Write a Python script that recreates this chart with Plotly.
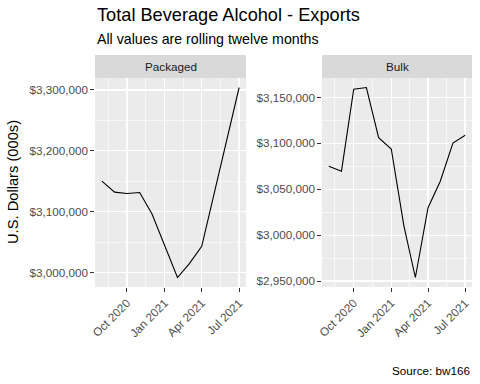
import pandas as pd
import plotly.graph_objects as go

# ---- data ----
months = ["2020-08-01", "2020-09-01", "2020-10-01", "2020-11-01", "2020-12-01", "2021-01-01",
          "2021-02-01", "2021-03-01", "2021-04-01", "2021-05-01", "2021-06-01", "2021-07-01"]
packaged = [3150000, 3132000, 3129700, 3131300, 3096000, 3043000,
            2991800, 3013700, 3043000, 3129000, 3217000, 3303800]
bulk = [3075100, 3069700, 3159000, 3160800, 3106200, 3093900,
        3010000, 2954000, 3029900, 3058800, 3100400, 3108800]
panels = ["Packaged", "Bulk"]

x_ticks = ["2020-10-01", "2021-01-01", "2021-04-01", "2021-07-01"]
x_tick_labels = ["Oct 2020", "Jan 2021", "Apr 2021", "Jul 2021"]
x_minor = ["2020-08-16", "2020-11-16", "2021-02-15", "2021-05-16"]
y1_ticks = [3000000, 3100000, 3200000, 3300000]
y1_minor = [3050000, 3150000, 3250000]
y2_ticks = [2950000, 3000000, 3050000, 3100000, 3150000]
y2_minor = [2975000, 3025000, 3075000, 3125000]

title = "Total Beverage Alcohol - Exports"
subtitle = "All values are rolling twelve months"
y_title = "U.S. Dollars (000s)"
caption = "Source: bw166"

# ---- helpers ----
def expand(lo, hi, f=0.05):
    d = (hi - lo) * f
    return [lo - d, hi + d]

dates = pd.to_datetime(months)
span = dates.max() - dates.min()
x_range = [dates.min() - span * 0.05, dates.max() + span * 0.05]

FONT = "Liberation Sans, Arial, sans-serif"
PANEL_BG = "#EBEBEB"
TICK_FONT = dict(family=FONT, size=11.7, color="#4D4D4D")

OFF = 0  # page body margin removed via post_script
W, H = 480, 384
ML = 95 - OFF
MT = 78 - OFF
MR = W - (472 - OFF)
MB = H - (287 - OFF)
PW = W - ML - MR
PH = H - MT - MB

def px_x(p):
    return (p - OFF - ML) / PW

def px_y(p):
    return (H - MB - (p - OFF)) / PH

d1 = [0, px_x(246)]
d2 = [px_x(322), 1]

fig = go.Figure()
fig.add_trace(go.Scatter(x=months, y=packaged, mode="lines",
                         line=dict(color="black", width=1.1),
                         xaxis="x", yaxis="y", showlegend=False))
fig.add_trace(go.Scatter(x=months, y=bulk, mode="lines",
                         line=dict(color="black", width=1.1),
                         xaxis="x2", yaxis="y2", showlegend=False))

def xaxis(domain, anchor):
    return dict(domain=domain, anchor=anchor, type="date", range=x_range,
                tickmode="array", tickvals=x_ticks, ticktext=x_tick_labels,
                tickangle=-45, tickfont=TICK_FONT,
                ticks="outside", ticklen=3.7, tickwidth=1, tickcolor="#333333",
                showgrid=True, gridcolor="white", gridwidth=1.4,
                minor=dict(tickmode="array", tickvals=x_minor, showgrid=True,
                           gridcolor="white", gridwidth=0.6, ticks=""),
                showline=False, zeroline=False, fixedrange=True)

def yaxis(anchor, vals, minor, rng):
    return dict(anchor=anchor, domain=[0, 1], range=rng,
                tickmode="array", tickvals=vals,
                ticktext=["$" + f"{v:,}" for v in vals],
                tickfont=TICK_FONT,
                ticks="outside", ticklen=3.7, tickwidth=1, tickcolor="#333333",
                showgrid=True, gridcolor="white", gridwidth=1.4,
                minor=dict(tickmode="array", tickvals=minor, showgrid=True,
                           gridcolor="white", gridwidth=0.6, ticks=""),
                showline=False, zeroline=False, fixedrange=True)

fig.update_layout(
    width=W, height=H,
    margin=dict(l=ML, r=MR, t=MT, b=MB, pad=0),
    paper_bgcolor="white", plot_bgcolor=PANEL_BG,
    font=dict(family=FONT, color="black"),
    xaxis=xaxis(d1, "y"),
    xaxis2=xaxis(d2, "y2"),
    yaxis=yaxis("x", y1_ticks, y1_minor, expand(min(packaged), max(packaged))),
    yaxis2=yaxis("x2", y2_ticks, y2_minor, expand(min(bulk), max(bulk))),
    showlegend=False,
    hovermode=False,
)

strip_top = px_y(55)
for dom, name in zip([d1, d2], panels):
    fig.add_shape(type="rect", xref="paper", yref="paper",
                  x0=dom[0], x1=dom[1], y0=1, y1=strip_top,
                  fillcolor="#D9D9D9", line=dict(width=0), layer="below")
    fig.add_annotation(text=name, xref="paper", yref="paper",
                       x=(dom[0] + dom[1]) / 2, y=(1 + strip_top) / 2,
                       xanchor="center", yanchor="middle", showarrow=False,
                       font=dict(family=FONT, size=11.7, color="#1A1A1A"))

fig.add_annotation(text=title, xref="paper", yref="paper", x=px_x(95), y=px_y(15),
                   xanchor="left", yanchor="middle", showarrow=False,
                   font=dict(family=FONT, size=18.2, color="black"))
fig.add_annotation(text=subtitle, xref="paper", yref="paper", x=px_x(95), y=px_y(39),
                   xanchor="left", yanchor="middle", showarrow=False,
                   font=dict(family=FONT, size=14.2, color="black"))
fig.add_annotation(text=y_title, xref="paper", yref="paper", x=px_x(13), y=px_y(182),
                   xanchor="center", yanchor="middle", textangle=-90, showarrow=False,
                   font=dict(family=FONT, size=14.7, color="black"))
fig.add_annotation(text=caption, xref="paper", yref="paper", x=px_x(472), y=px_y(370),
                   xanchor="right", yanchor="middle", showarrow=False,
                   font=dict(family=FONT, size=11.7, color="black"))

fig.write_html("out.html", config={"displayModeBar": False, "staticPlot": True},
               post_script="document.body.style.margin='0px';")
